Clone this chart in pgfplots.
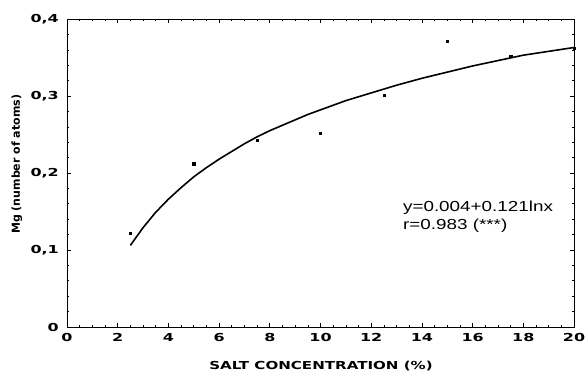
\documentclass[border=0pt]{standalone}
\usepackage{pgfplots}
\pgfplotsset{compat=1.18}
\usepackage{fontspec}
\setmainfont{Liberation Sans}
\newfontfamily\tickfont[FakeStretch=1.45]{DejaVu Sans}
\newfontfamily\xlabfont[FakeStretch=1.37]{DejaVu Sans}
\newfontfamily\ylabfont{DejaVu Sans}
\newfontfamily\notefont[FakeStretch=1.3]{Liberation Sans}
\begin{document}
\begin{tikzpicture}
\useasboundingbox (-67pt,-45pt) rectangle (520pt,327pt);
\begin{axis}[
  at={(0pt,0pt)}, anchor=south west,
  scale only axis, width=507pt, height=308pt,
  xmin=0, xmax=20, ymin=0, ymax=0.4,
  xtick={0,2,...,20}, ytick={0,0.1,0.2,0.3,0.4},
  minor x tick num=3, minor y tick num=4,
  tick align=inside,
  major tick length=4pt, minor tick length=2pt,
  axis line style={line width=0.9pt},
  every tick/.style={line width=0.6pt, black},
  tick label style={font=\fontsize{11}{13}\tickfont\bfseries, inner sep=0pt},
  xticklabel style={anchor=north, yshift=-6pt},
  yticklabel style={anchor=east, xshift=-8pt},
  xticklabel={\pgfmathprintnumber[assume math mode=true]{\tick}},
  yticklabel={\pgfmathprintnumber[assume math mode=true,use comma,fixed,precision=1]{\tick}},
  xlabel={SALT CONCENTRATION (\%)},
  every axis x label/.style={at={(axis description cs:0.501,-0.1375)}, anchor=base, inner sep=0pt,
    font=\fontsize{11}{13}\xlabfont\bfseries},
  ylabel={Mg (number of atoms)},
  every axis y label/.style={at={(axis description cs:-0.0986,0.528)}, rotate=90, anchor=center, inner sep=0pt,
    font=\fontsize{11}{13}\ylabfont\bfseries},
  clip=false,
]
\addplot[only marks, mark=square*, mark size=1.1pt, black] coordinates {
  (2.5,0.122) (5,0.212) (7.5,0.243) (10,0.252) (12.5,0.301) (15,0.371) (17.5,0.352) (20,0.362)
};
\addplot[black, line width=1.6pt] coordinates {
  (2.5,0.106) (3,0.129) (3.5,0.149) (4,0.166) (4.5,0.181) (5,0.195) (5.5,0.207) (6,0.218)
  (6.5,0.228) (7,0.238) (7.5,0.247) (8,0.255) (8.5,0.262) (9,0.269) (9.5,0.276) (10,0.282)
  (11,0.294) (12,0.304) (13,0.314) (14,0.323) (15,0.331) (16,0.339) (17,0.346) (18,0.353)
  (19,0.358) (20,0.363)
};
\node[anchor=base west, inner sep=0pt, font=\fontsize{14.5}{17}\notefont] at (axis cs:13.25,0.150) {y=0.004+0.121lnx};
\node[anchor=base west, inner sep=0pt, font=\fontsize{14.5}{17}\notefont] at (axis cs:13.25,0.127) {r=0.983 (***)};
\end{axis}
\end{tikzpicture}
\end{document}
